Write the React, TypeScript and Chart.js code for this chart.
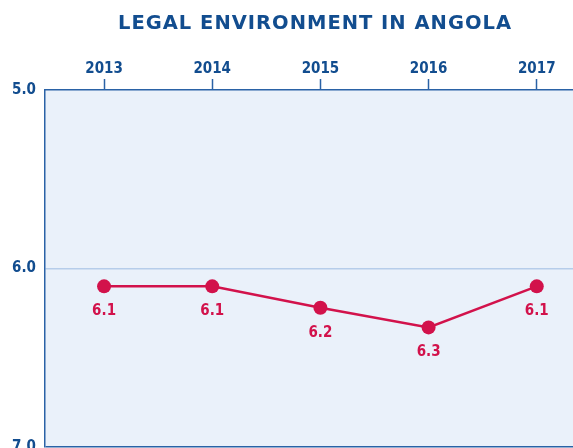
import React, { useEffect, useRef } from "react";
import { Chart, registerables } from "chart.js";

Chart.register(...registerables);

const TITLE = "LEGAL ENVIRONMENT IN ANGOLA";
const years = [2013, 2014, 2015, 2016, 2017];
const scores = [6.1, 6.1, 6.22, 6.33, 6.1];
const yTicks = [5, 6, 7];

const NAVY = "#124d8f";
const BORDER = "#2a62a6";
const GRID = "#b6cdea";
const BG = "#eaf1fa";
const RED = "#d2124b";
const FONT = "'DejaVu Sans Condensed', Lato, sans-serif";
const TITLE_FONT = "'DejaVu Sans', Lato, sans-serif";

export default function App() {
  const ref = useRef<HTMLCanvasElement | null>(null);

  useEffect(() => {
    if (!ref.current) return;
    const bgPlugin = {
      id: "bgPlugin",
      beforeDraw(chart: any) {
        const { ctx, chartArea } = chart;
        ctx.save();
        ctx.fillStyle = "#ffffff";
        ctx.fillRect(0, 0, chart.width, chart.height);
        ctx.fillStyle = BG;
        ctx.fillRect(chartArea.left, chartArea.top, chartArea.right - chartArea.left, chartArea.bottom - chartArea.top);
        ctx.restore();
      },
      afterDraw(chart: any) {
        const { ctx } = chart;
        ctx.save();
        ctx.fillStyle = NAVY;
        ctx.font = `bold 19.5px ${TITLE_FONT}`;
        try {
          (ctx as any).letterSpacing = "1px";
        } catch (e) {}
        ctx.textAlign = "center";
        ctx.textBaseline = "middle";
        ctx.fillText(TITLE, 315, 24);
        ctx.restore();
      },
      afterDatasetsDraw(chart: any) {
        const { ctx } = chart;
        const meta = chart.getDatasetMeta(0);
        ctx.save();
        ctx.fillStyle = RED;
        ctx.font = `bold 15px ${FONT}`;
        ctx.textAlign = "center";
        ctx.textBaseline = "middle";
        meta.data.forEach((pt: any, i: number) => {
          ctx.fillText(scores[i].toFixed(1), pt.x, pt.y + 25);
        });
        ctx.restore();
      },
    };

    const chart = new Chart(ref.current, {
      type: "line",
      data: {
        datasets: [
          {
            data: years.map((y, i) => ({ x: y, y: scores[i] })),
            borderColor: RED,
            backgroundColor: RED,
            borderWidth: 2.5,
            pointRadius: 7,
            pointHoverRadius: 7,
            pointBackgroundColor: RED,
            pointBorderWidth: 0,
            tension: 0,
          },
        ],
      },
      options: {
        animation: false,
        responsive: false,
        events: [],
        layout: { padding: { top: 0, left: 0, right: 0, bottom: 0 } },
        plugins: {
          legend: { display: false },
          title: { display: false },
          tooltip: { enabled: false },
        },
        scales: {
          x: {
            type: "linear",
            position: "top",
            min: 2012.454,
            max: 2017.52,
            afterFit: (s: any) => {
              s.height = 90;
            },
            afterBuildTicks: (s: any) => {
              s.ticks = years.map((v) => ({ value: v }));
            },
            ticks: {
              stepSize: 1,
              includeBounds: false,
              padding: 1,
              color: NAVY,
              font: { family: FONT, size: 15, weight: "bold" },
              callback: (v: any) => String(v),
              maxRotation: 0,
            },
            grid: {
              drawOnChartArea: false,
              drawTicks: true,
              tickLength: 11,
              tickColor: BORDER,
              tickWidth: 1.5,
            },
            border: { display: true, color: BORDER, width: 1.5 },
          },
          y: {
            type: "linear",
            position: "left",
            reverse: true,
            min: 5,
            max: 7,
            afterFit: (s: any) => {
              s.width = 45;
            },
            afterBuildTicks: (s: any) => {
              s.ticks = yTicks.map((v) => ({ value: v }));
            },
            ticks: {
              stepSize: 1,
              padding: 9,
              color: NAVY,
              font: { family: FONT, size: 15, weight: "bold" },
              callback: (v: any) => Number(v).toFixed(1),
            },
            grid: {
              drawTicks: false,
              lineWidth: 1.5,
              color: (c: any) => {
                const v = c.tick ? c.tick.value : null;
                if (v === 6) return GRID;
                if (v === 7) return BORDER;
                return "rgba(0,0,0,0)";
              },
            },
            border: { display: true, color: BORDER, width: 1.5 },
          },
        },
      },
      plugins: [bgPlugin],
    } as any);
    return () => chart.destroy();
  }, []);

  return (
    <div
      style={{
        position: "fixed",
        left: 0,
        top: 0,
        width: 573,
        height: 448,
        overflow: "hidden",
        background: "#fff",
      }}
    >
      <canvas ref={ref} width={600} height={465} style={{ width: 600, height: 465, display: "block" }} />
    </div>
  );
}
